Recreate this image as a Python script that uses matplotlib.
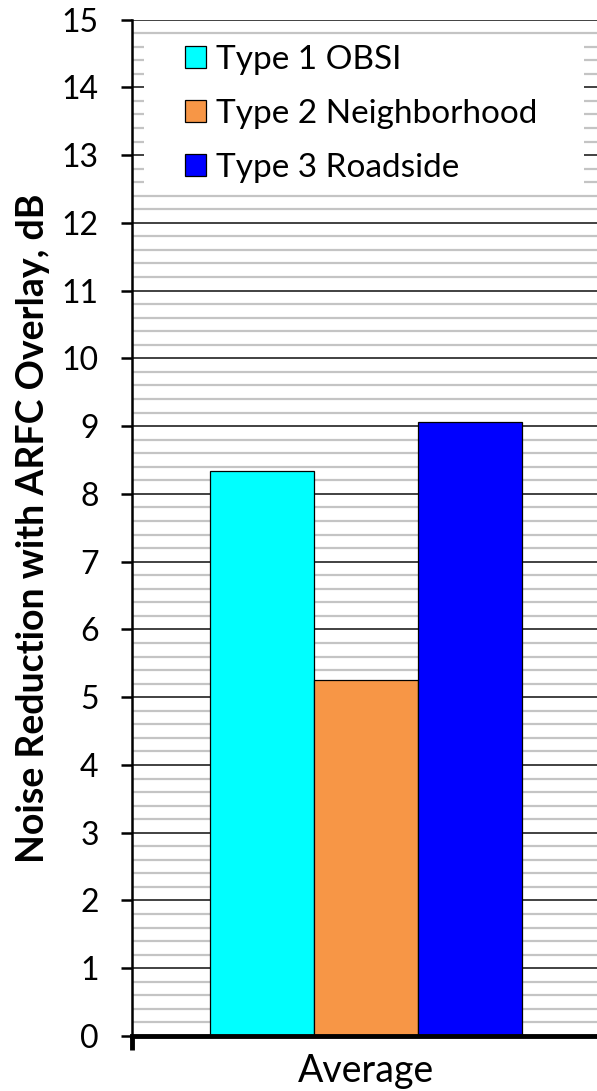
import numpy as np
import matplotlib
matplotlib.use('Agg')
import matplotlib.pyplot as plt
from matplotlib.ticker import MultipleLocator
from matplotlib.patches import Rectangle

plt.rcParams['font.family'] = ['Lato', 'DejaVu Sans']

series = ["Type 1 OBSI", "Type 2 Neighborhood", "Type 3 Roadside"]
values = [8.34, 5.25, 9.06]
bar_colors = ["#00FFFF", "#F79646", "#0000FF"]
category = "Average"

fig = plt.figure(figsize=(5.97, 10.91), dpi=100)
ax = fig.add_axes([0.2211, 0.0504, 0.784, 0.9317])

width = 1.0 / 3
xs = (np.arange(len(values)) - 1) * width
for x, v, c, name in zip(xs, values, bar_colors, series):
    ax.bar(x, v, width=width, color=c, edgecolor='black', linewidth=0.9,
           label=name, zorder=3)

ax.set_xlim(-0.75, 0.75)
ax.set_ylim(0, 15)
ax.yaxis.set_major_locator(MultipleLocator(1))
ax.yaxis.set_minor_locator(MultipleLocator(0.2))
ax.grid(which='major', axis='y', color='#333333', linewidth=1.3, zorder=1)
ax.grid(which='minor', axis='y', color='#c4c4c4', linewidth=1.6, zorder=0)

ax.set_xticks([0])
ax.set_xticklabels([category], fontsize=27)
ax.tick_params(axis='x', which='major', length=0, pad=12)
ax.set_xticks([-0.75, 0.75], minor=True)
ax.tick_params(axis='x', which='minor', length=10, width=3.5, color='black')

ax.tick_params(axis='y', which='major', labelsize=23, length=8, width=1.8, pad=16)
ax.tick_params(axis='y', which='minor', length=0)

for side in ['top', 'right']:
    ax.spines[side].set_visible(False)
ax.spines['left'].set_linewidth(1.8)
ax.spines['bottom'].set_linewidth(3.5)
ax.spines['left'].set_zorder(4)
ax.spines['bottom'].set_zorder(4)

ax.set_ylabel("Noise Reduction with ARFC Overlay, dB", fontsize=27,
              fontweight='bold', labelpad=8)

# white panel behind the legend entries
ax.add_patch(Rectangle((0.026, 0.830), 0.94, 0.152, transform=ax.transAxes,
                       facecolor='white', edgecolor='none', zorder=2))

leg = ax.legend(loc='upper left', bbox_to_anchor=(0.063, 0.998), fontsize=24,
                frameon=False, handlelength=0.63, handleheight=0.63,
                handletextpad=0.3, labelspacing=0.72, borderpad=0.2)
leg.set_zorder(5)

fig.savefig("out.png", dpi=100)
plt.close()
